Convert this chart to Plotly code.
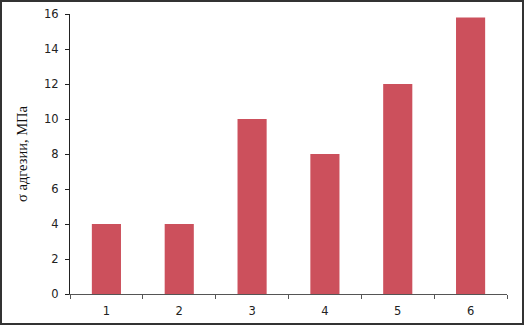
import plotly.graph_objects as go

categories = ["1", "2", "3", "4", "5", "6"]
values = [4, 4, 10, 8, 12, 15.8]
y_ticks = [0, 2, 4, 6, 8, 10, 12, 14, 16]

W, H = 524, 325
L, R, T, B = 70, 17, 14, 31
pw, ph = W - L - R, H - T - B

fig = go.Figure(go.Bar(x=categories, y=values, marker=dict(color="#CC505C", line=dict(width=0))))

fig.update_layout(
    width=W, height=H,
    margin=dict(l=L, r=R, t=T, b=B),
    paper_bgcolor="white", plot_bgcolor="white",
    bargap=0.6,
    showlegend=False,
    font=dict(family="DejaVu Sans", size=11.5, color="#222"),
    yaxis=dict(
        range=[0, 16], tickvals=y_ticks, ticks="outside", ticklen=4, tickcolor="#222",
        showline=True, linecolor="#222", linewidth=1, showgrid=False, zeroline=False,
        ticklabelstandoff=4, automargin=False,
        title=dict(text="σ адгезии, МПа", font=dict(family="Liberation Serif", size=14.5, color="#111"), standoff=12),
    ),
    xaxis=dict(
        type="category", ticks="outside", tickson="boundaries", ticklen=4, tickcolor="#555",
        showline=True, linecolor="#555", linewidth=1, showgrid=False,
        ticklabelstandoff=6, automargin=False,
    ),
    shapes=[dict(
        type="rect", xref="paper", yref="paper",
        x0=(-L + 1) / pw, x1=(W - L - 1) / pw,
        y0=(-B + 1) / ph, y1=(H - B - 1) / ph,
        line=dict(color="#333", width=2), fillcolor="rgba(0,0,0,0)", layer="above",
    )],
)

fig.write_html("out.html")
